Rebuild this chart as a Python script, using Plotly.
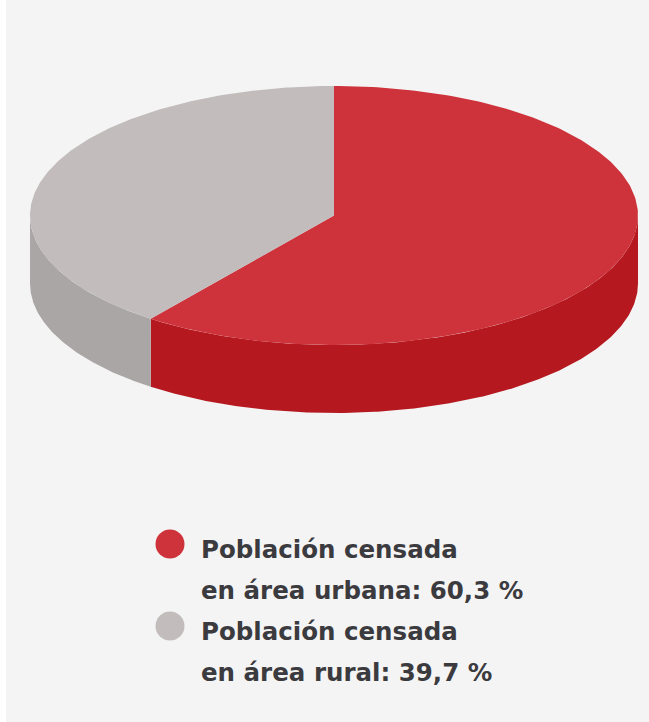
import numpy as np
import plotly.graph_objects as go

# Data
categories = ["Población censada<br>en área urbana", "Población censada<br>en área rural"]
shares = [60.3, 39.7]

# Styles
top_colors = ["#CE323B", "#C2BCBC"]
side_colors = ["#B5191F", "#ABA6A6"]
text_color = "#3B3B3F"
panel = "#F4F4F4"

W, H = 649, 722
cx, cy, rx, ry, depth = 334, 215.5, 304, 129.5, 68


def pt(deg):
    a = np.radians(deg)
    return cx + rx * np.sin(a), cy - ry * np.cos(a)


def top_path(a0, a1):
    t = np.linspace(a0, a1, 240)
    x, y = pt(t)
    return np.r_[cx, x, cx], np.r_[cy, y, cy]


def side_path(a0, a1):
    # only the front of the rim (90..270 degrees clockwise from the top) is visible
    lo, hi = max(a0, 90), min(a1, 270)
    t = np.linspace(lo, hi, 200)
    x, y = pt(t)
    return np.r_[x, x[::-1], x[0]], np.r_[y, y[::-1] + depth, y[0]]


fig = go.Figure()
edges = np.r_[0, np.cumsum(shares)] * 3.6
for i, name in enumerate(categories):
    sx, sy = side_path(edges[i], edges[i + 1])
    fig.add_trace(go.Scatter(x=sx, y=sy, mode="lines", fill="toself", fillcolor=side_colors[i],
                             line=dict(width=0, color=side_colors[i]), hoverinfo="skip", showlegend=False))
for i, name in enumerate(categories):
    tx, ty = top_path(edges[i], edges[i + 1])
    fig.add_trace(go.Scatter(x=tx, y=ty, mode="lines", fill="toself", fillcolor=top_colors[i],
                             line=dict(width=0, color=top_colors[i]), name=name, hoverinfo="name",
                             showlegend=False))

# Legend, laid out as in the reference
legend_x, dot_x = 199, 170
line_y = [[549, 590], [631, 672]]
dot_y = [544, 626]
font = dict(family="DejaVu Sans", size=24.5, color=text_color)
for i, name in enumerate(categories):
    first, second = name.split("<br>")
    label = [f"<b>{first}</b>", f"<b>{second}: {str(shares[i]).replace('.', ',')} %</b>"]
    for txt, yy in zip(label, line_y[i]):
        fig.add_annotation(x=legend_x, y=yy, text=txt, showarrow=False, xanchor="left", yanchor="middle",
                           font=font, xref="x", yref="y")
    fig.add_shape(type="circle", x0=dot_x - 14.5, x1=dot_x + 14.5, y0=dot_y[i] - 14.5, y1=dot_y[i] + 14.5,
                  fillcolor=top_colors[i], line_width=0, xref="x", yref="y")

# Panel behind everything (thin white strip on the left)
fig.add_shape(type="rect", x0=6, x1=W, y0=0, y1=H, fillcolor=panel, line_width=0, layer="below", xref="x", yref="y")

fig.update_layout(
    width=W, height=H, autosize=False, margin=dict(l=0, r=0, t=0, b=0),
    paper_bgcolor="white", plot_bgcolor="white",
    xaxis=dict(range=[0, W], visible=False, fixedrange=True),
    yaxis=dict(range=[H, 0], visible=False, fixedrange=True),
    showlegend=False,
)
fig.write_html("out.html", config=dict(displayModeBar=False),
               post_script="document.body.style.margin='0';")
